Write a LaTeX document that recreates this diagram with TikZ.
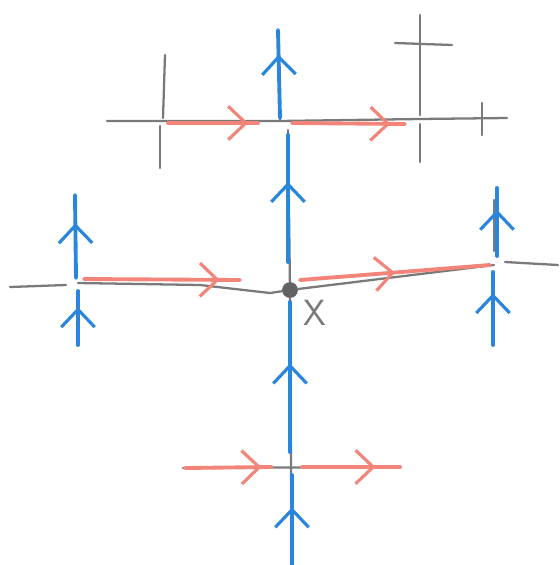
\documentclass[tikz,border=0pt]{standalone}
\usepackage{tikz}
\usetikzlibrary{arrows.meta, decorations.markings, calc}
\definecolor{pencil}{HTML}{7A7A7A}
\definecolor{redpen}{HTML}{F2847A}
\definecolor{bluepen}{HTML}{2A86DC}

\begin{document}
\begin{tikzpicture}[x=0.02cm, y=-0.02cm,
    grey/.style={pencil, line width=1.3pt, line cap=round},
    flow/.style={line width=2.2pt, line cap=round,
        postaction={decorate, decoration={markings,
            mark=at position #1 with {\arrow{Straight Barb[length=10pt,width=19pt,line width=1.8pt]}}}}},
    hflow/.style={redpen, flow=#1},
    vflow/.style={bluepen, flow=#1}]
    \useasboundingbox (0,0) rectangle (560,565);

    % crossings
    \coordinate (t1) at (163,121);
    \coordinate (t2) at (280,121);
    \coordinate (t3) at (420,119);
    \coordinate (lc) at (78,283);
    \coordinate (rc) at (494,265);
    \coordinate (bc) at (291,467);
    \node[circle, fill=pencil!80!black, inner sep=0pt, minimum size=9pt] (x) at (290,290) {};
    \node[pencil, font=\sffamily\huge] (xlab) at (315,313) {X};

    % free ends
    \coordinate (t0) at (107,121);
    \coordinate (t4) at (507,118);
    \coordinate (a1) at (165,55);
    \coordinate (a2) at (160,168);
    \coordinate (c0) at (278,30);
    \coordinate (b1) at (420,15);
    \coordinate (b2) at (420,162);
    \coordinate (b3) at (395,43);
    \coordinate (b4) at (452,45);
    \coordinate (k1) at (482,103);
    \coordinate (k2) at (482,135);
    \coordinate (l0) at (10,287);
    \coordinate (l1) at (66,285);
    \coordinate (lt) at (75,195);
    \coordinate (lb) at (78,345);
    \coordinate (r0) at (505,262);
    \coordinate (r1) at (558,265);
    \coordinate (rt) at (497,188);
    \coordinate (rb) at (493,345);
    \coordinate (bl) at (183,468);
    \coordinate (br) at (400,467);
    \coordinate (be) at (292,565);

    % pencil lines
    \draw[grey] (t0) -- (t1) -- (t2) -- (t3) -- (t4);
    \draw[grey] (a1) -- ($(t1)+(0,-3)$);
    \draw[grey] ($(t1)+(-3,5)$) -- (a2);
    \draw[grey] (c0) -- (t2);
    \draw[grey] ($(t2)+(8,9)$) -- (x);
    \draw[grey] (b1) -- ($(t3)+(0,-4)$);
    \draw[grey] ($(t3)+(0,5)$) -- (b2);
    \draw[grey] (b3) -- (b4);
    \draw[grey] (k1) -- (k2);
    \draw[grey] (l0) -- (l1);
    \draw[grey] (lc) -- (200,285) -- (270,293) -- (x);
    \draw[grey] (x) -- (rc);
    \draw[grey] (r0) -- (r1);
    \draw[grey] ($(rc)+(0,-14)$) -- ($(rt)+(-3,12)$);
    \draw[grey] (x) -- (bc) -- (be);
    \draw[grey] (bl) -- (br);

    % horizontal flow
    \draw[hflow=0.89] ($(t1)+(5,2)$) -- ($(t2)+(-22,2)$);
    \draw[hflow=0.87] ($(t2)+(12,2)$) -- ($(t3)+(-15,5)$);
    \draw[hflow=0.87] ($(lc)+(6,-4)$) -- ($(x)+(-50,-10)$);
    \draw[hflow=0.5] ($(x)+(10,-10)$) -- ($(rc)+(-4,0)$);
    \draw[hflow=0.88] ($(bl)+(2,0)$) -- ($(bc)+(-19,0)$);
    \draw[hflow=0.75] ($(bc)+(11,0)$) -- (br);

    % vertical flow
    \draw[vflow=0.72] ($(t2)+(0,-3)$) -- (c0);
    \draw[vflow=0.63] ($(x)+(-2,-28)$) -- ($(t2)+(8,14)$);
    \draw[vflow=0.59] ($(bc)+(-1,-15)$) -- ($(x)+(0,12)$);
    \draw[vflow=0.64] (be) -- ($(bc)+(1,8)$);
    \draw[vflow=0.66] ($(lc)+(-2,-5)$) -- (lt);
    \draw[vflow=0.70] (lb) -- ($(lc)+(0,8)$);
    \draw[vflow=0.68] ($(rc)+(3,-9)$) -- (rt);
    \draw[vflow=0.71] (rb) -- ($(rc)+(-1,7)$);
\end{tikzpicture}
\end{document}
